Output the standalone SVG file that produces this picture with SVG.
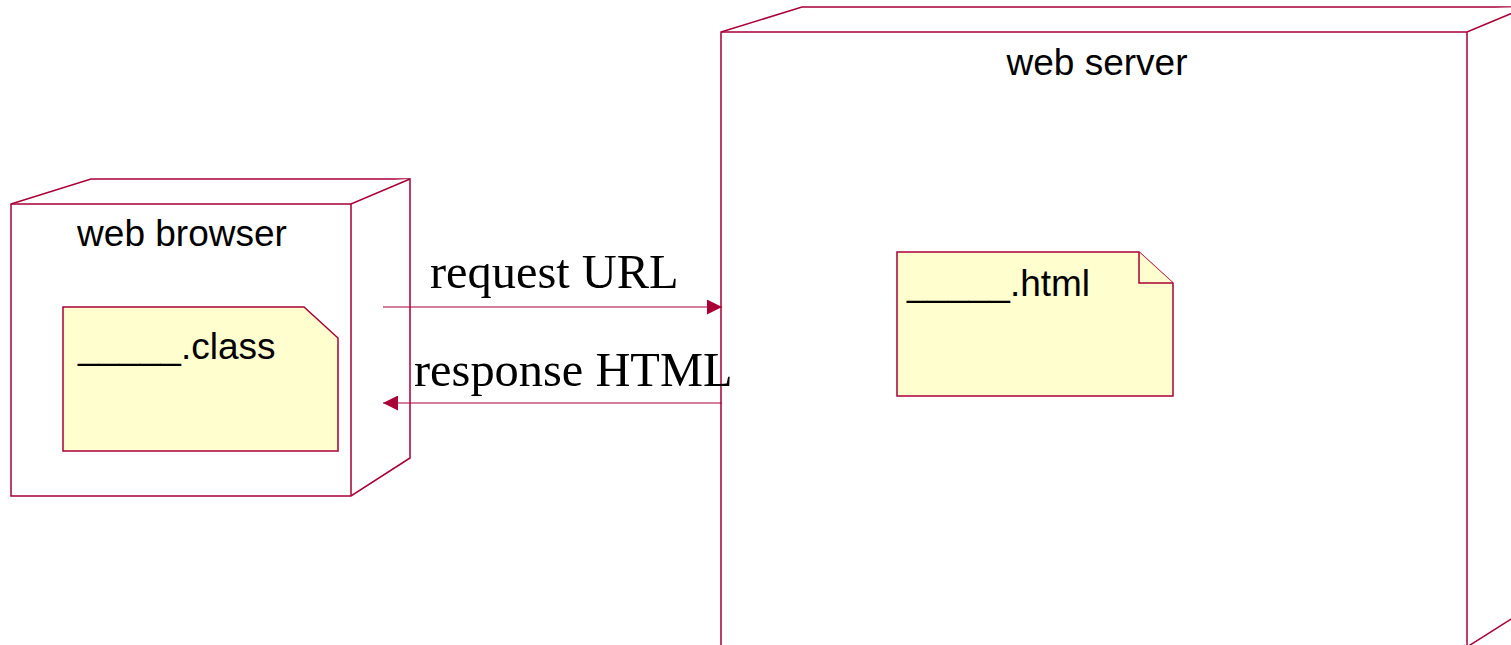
<svg xmlns="http://www.w3.org/2000/svg" width="1511" height="645" viewBox="0 0 1511 645">
<style>
.node{fill:#ffffff;stroke:#a80036;stroke-width:1.5}
.note{fill:#fefece;stroke:#a80036;stroke-width:1.5}
.lbl{font-family:"Liberation Sans",Arial,sans-serif;font-size:37px;fill:#000}
.edge{font-family:"Liberation Serif","Times New Roman",serif;font-size:48.4px;fill:#000}
.conn{stroke:#a80036;stroke-width:1;fill:none}
</style>
<defs>
<marker id="ah" markerWidth="15" markerHeight="15" refX="15" refY="7.5" orient="auto" markerUnits="userSpaceOnUse">
<path d="M0,0 L15,7.5 L0,15 Z" fill="#a80036"/>
</marker>
</defs>
<rect width="1511" height="645" fill="#ffffff"/>
<g id="browser">
<path class="node" d="M11,204 L91,179 L410,179 L410,458 L351,496 L11,496 Z"/>
<path class="node" d="M11,204 L351,204 L410,179 M351,204 L351,496"/>
<text class="lbl" x="182" y="246" text-anchor="middle">web browser</text>
</g>
<g id="class-note">
<path class="note" d="M63,307 L304,307 L338,338 L338,451 L63,451 Z"/>
<text class="lbl" x="78" y="359">_____.class</text>
</g>
<g id="server">
<path class="node" d="M721,32 L802,7 L1527,7 L1527,609 L1467,647 L721,647 Z"/>
<path class="node" d="M721,32 L1467,32 L1527,7 M1467,32 L1467,647"/>
<text class="lbl" x="1097" y="75" text-anchor="middle">web server</text>
</g>
<g id="html-note">
<path class="note" d="M897,252 L1139,252 L1173,283 L1173,396 L897,396 Z"/>
<path class="note" d="M1139,252 L1139,283 L1173,283"/>
<text class="lbl" x="907" y="296">_____.html</text>
</g>
<g id="connectors">
<line class="conn" x1="383" y1="307" x2="722" y2="307" marker-end="url(#ah)"/>
<line class="conn" x1="722" y1="403" x2="383" y2="403" marker-end="url(#ah)"/>
<text class="edge" x="430" y="288">request URL</text>
<text class="edge" x="414" y="386">response HTML</text>
</g>
</svg>
